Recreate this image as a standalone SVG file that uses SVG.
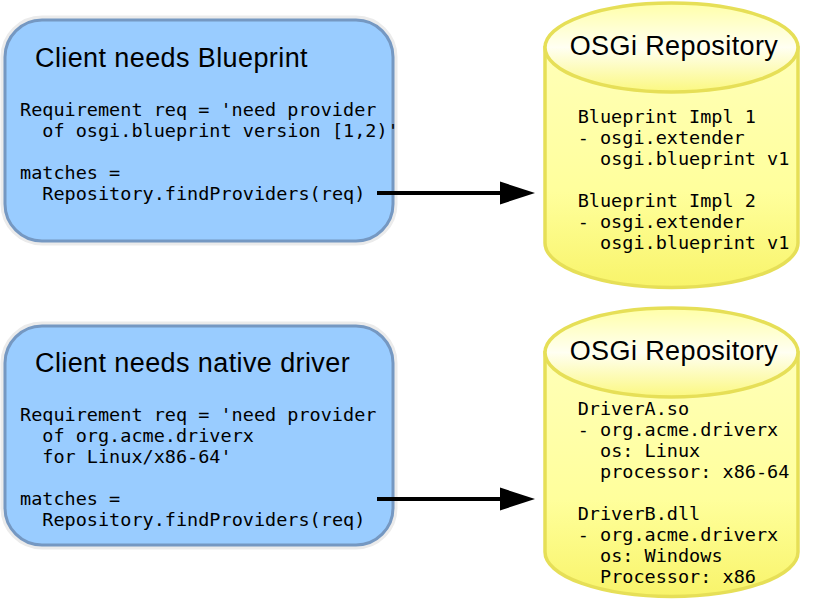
<svg xmlns="http://www.w3.org/2000/svg" width="813" height="615" viewBox="0 0 813 615">
  <style>
    .halo { fill: none; stroke: #ebebeb; stroke-width: 9; }
    .box { fill: #99ccff; stroke: #7598c2; stroke-width: 3; }
    .cylbody { fill: url(#cylBody); stroke: #e6df57; stroke-width: 3.5; }
    .cyltop { fill: url(#cylTop); stroke: #e6df57; stroke-width: 3.5; }
    .title { font-family: "Liberation Sans", Arial, sans-serif; font-size: 27px; letter-spacing: 0.4px; fill: #000; }
    .code { font-family: "DejaVu Sans Mono", "Liberation Mono", monospace; font-size: 18.5px; fill: #000; }
    .conn { stroke: #000; stroke-width: 4; fill: none; }
    .head { fill: #000; }
  </style>
  <defs>
    <linearGradient id="cylBody" x1="0" y1="0" x2="0" y2="1">
      <stop offset="0" stop-color="#ffffb8"/>
      <stop offset="0.6" stop-color="#ffff9c"/>
      <stop offset="1" stop-color="#f8f46a"/>
    </linearGradient>
    <linearGradient id="cylTop" x1="0" y1="0" x2="0" y2="1">
      <stop offset="0" stop-color="#ffffa8"/>
      <stop offset="0.5" stop-color="#fffff2"/>
      <stop offset="1" stop-color="#fbf880"/>
    </linearGradient>
  </defs>

  <g id="client-blueprint">
    <rect class="halo" x="5" y="20" width="388" height="221" rx="37" ry="37"/>
    <rect class="box" x="5" y="20" width="388" height="221" rx="37" ry="37"/>
    <text class="title" x="35" y="67">Client needs Blueprint</text>
    <text class="code" x="20" y="115.5">Requirement req = 'need provider</text>
    <text class="code" x="42.3" y="136.5">of osgi.blueprint version [1,2)'</text>
    <text class="code" x="20" y="179">matches =</text>
    <text class="code" x="42.3" y="200">Repository.findProviders(req)</text>
  </g>

  <g id="client-driver">
    <rect class="halo" x="5" y="326" width="388" height="219" rx="37" ry="37"/>
    <rect class="box" x="5" y="326" width="388" height="219" rx="37" ry="37"/>
    <text class="title" x="35" y="372">Client needs native driver</text>
    <text class="code" x="20" y="421">Requirement req = 'need provider</text>
    <text class="code" x="42.3" y="442">of org.acme.driverx</text>
    <text class="code" x="42.3" y="463">for Linux/x86-64'</text>
    <text class="code" x="20" y="505">matches =</text>
    <text class="code" x="42.3" y="526">Repository.findProviders(req)</text>
  </g>

  <g id="repo-blueprint">
    <path class="cylbody" d="M545,47.5 L545,243 A126.5,44.5 0 0 0 798,243 L798,47.5 Z"/>
    <ellipse class="cyltop" cx="671.5" cy="47.5" rx="126.5" ry="44.5"/>
    <text class="title" x="674" y="55" text-anchor="middle">OSGi Repository</text>
    <text class="code" x="577.7" y="122.5">Blueprint Impl 1</text>
    <text class="code" x="577.7" y="143.5">- osgi.extender</text>
    <text class="code" x="600" y="164.5">osgi.blueprint v1</text>
    <text class="code" x="577.7" y="206.5">Blueprint Impl 2</text>
    <text class="code" x="577.7" y="227.5">- osgi.extender</text>
    <text class="code" x="600" y="248.5">osgi.blueprint v1</text>
  </g>

  <g id="repo-driver">
    <path class="cylbody" d="M545,352.5 L545,552 A126.5,44.5 0 0 0 798,552 L798,352.5 Z"/>
    <ellipse class="cyltop" cx="671.5" cy="352.5" rx="126.5" ry="44.5"/>
    <text class="title" x="674" y="360" text-anchor="middle">OSGi Repository</text>
    <text class="code" x="577.7" y="415">DriverA.so</text>
    <text class="code" x="577.7" y="436">- org.acme.driverx</text>
    <text class="code" x="600" y="457">os: Linux</text>
    <text class="code" x="600" y="478">processor: x86-64</text>
    <text class="code" x="577.7" y="520">DriverB.dll</text>
    <text class="code" x="577.7" y="541">- org.acme.driverx</text>
    <text class="code" x="600" y="562">os: Windows</text>
    <text class="code" x="600" y="583">Processor: x86</text>
  </g>

  <g id="connectors">
    <line class="conn" x1="377" y1="193" x2="502" y2="193"/>
    <polygon class="head" points="535,193 500,181.5 500,204.5"/>
    <line class="conn" x1="377" y1="499" x2="502" y2="499"/>
    <polygon class="head" points="535,499 500,487.5 500,510.5"/>
  </g>
</svg>
